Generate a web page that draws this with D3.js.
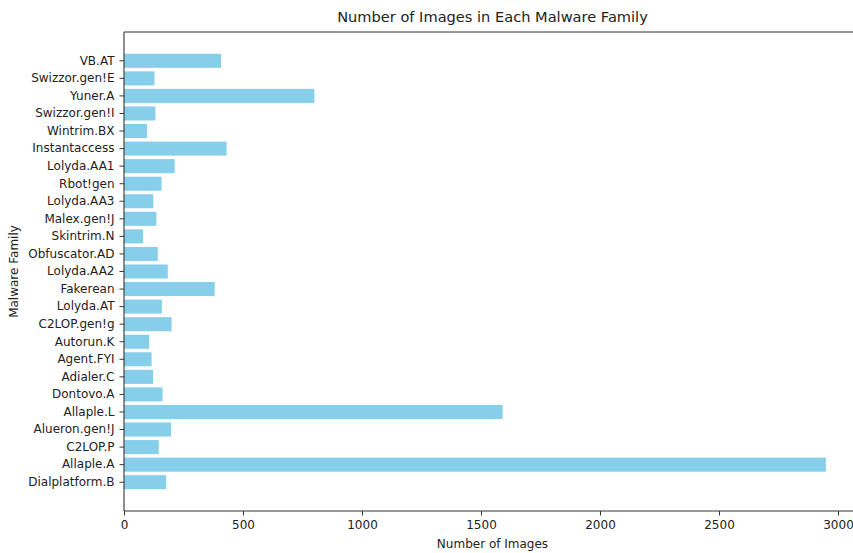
<!DOCTYPE html>
<html>
<head>
<meta charset="utf-8">
<script src="https://cdn.jsdelivr.net/npm/d3@7"></script>
<style>
  html, body { margin: 0; padding: 0; background: #fff; }
  svg { display: block; font-family: "DejaVu Sans", sans-serif; }
</style>
</head>
<body>
<svg id="chart" width="853" height="553"></svg>
<script>
// Categories listed top to bottom as in the chart
const families = [
  "VB.AT", "Swizzor.gen!E", "Yuner.A", "Swizzor.gen!I", "Wintrim.BX",
  "Instantaccess", "Lolyda.AA1", "Rbot!gen", "Lolyda.AA3", "Malex.gen!J",
  "Skintrim.N", "Obfuscator.AD", "Lolyda.AA2", "Fakerean", "Lolyda.AT",
  "C2LOP.gen!g", "Autorun.K", "Agent.FYI", "Adialer.C", "Dontovo.A",
  "Allaple.L", "Alueron.gen!J", "C2LOP.P", "Allaple.A", "Dialplatform.B"
];
const imageCounts = [
  408, 128, 800, 132, 97,
  431, 213, 158, 123, 136,
  80, 142, 184, 381, 159,
  200, 106, 116, 122, 162,
  1591, 198, 146, 2949, 177
];
const xTicks = [0, 500, 1000, 1500, 2000, 2500, 3000];
const titleText = "Number of Images in Each Malware Family";
const xLabelText = "Number of Images";
const yLabelText = "Malware Family";

(function () {
const svg = d3.select("#chart");
const mLeft = 124, mTop = 32, mBottom = 511;
const pxPerUnit = 0.238;
const xMax = d3.max(imageCounts) * 1.05;
const mRight = mLeft + xMax * pxPerUnit;

const x = d3.scaleLinear().domain([0, xMax]).range([mLeft, mRight]);
const y = d3.scaleBand().domain(families).range([mTop, mBottom])
  .paddingInner(0.2).paddingOuter(1.24);

const textColor = "#222";
const axisColor = "#333";

// Bars
svg.append("g").selectAll("rect")
  .data(families)
  .join("rect")
  .attr("x", x(0))
  .attr("y", d => y(d))
  .attr("width", (d, i) => x(imageCounts[i]) - x(0))
  .attr("height", y.bandwidth())
  .attr("fill", "#87CEEB");

// Spines (top and right; right is beyond the picture edge)
svg.append("line").attr("x1", mLeft).attr("x2", mRight).attr("y1", mTop).attr("y2", mTop)
  .attr("stroke", axisColor).attr("stroke-width", 1.1);
svg.append("line").attr("x1", mRight).attr("x2", mRight).attr("y1", mTop).attr("y2", mBottom)
  .attr("stroke", axisColor).attr("stroke-width", 1.1);

// Axes
const xAxis = d3.axisBottom(x).tickValues(xTicks).tickFormat(d3.format("d"))
  .tickSize(4.5).tickPadding(5).tickSizeOuter(0);
const gx = svg.append("g").attr("transform", `translate(0,${mBottom})`).call(xAxis);
const yAxis = d3.axisLeft(y).tickSize(4.5).tickPadding(5).tickSizeOuter(0);
const gy = svg.append("g").attr("transform", `translate(${mLeft},0)`).call(yAxis);

[gx, gy].forEach(g => {
  g.select(".domain").attr("stroke", axisColor).attr("stroke-width", 1.1);
  g.selectAll(".tick line").attr("stroke", axisColor).attr("stroke-width", 1);
  g.selectAll(".tick text").attr("fill", textColor)
    .style("font-family", "'DejaVu Sans', sans-serif").style("font-size", "12px");
});
gy.select(".domain").attr("d", `M0,${mTop}V${mBottom}`);
gx.select(".domain").attr("d", `M${mLeft},0H${mRight}`);

// Title and labels
svg.append("text")
  .attr("x", (mLeft + mRight) / 2).attr("y", 22)
  .attr("text-anchor", "middle")
  .attr("fill", textColor)
  .style("font-size", "14.6px")
  .text(titleText);

svg.append("text")
  .attr("x", (mLeft + mRight) / 2).attr("y", 548)
  .attr("text-anchor", "middle")
  .attr("fill", textColor)
  .style("font-size", "12px")
  .text(xLabelText);

svg.append("text")
  .attr("transform", `translate(18,${(mTop + mBottom) / 2}) rotate(-90)`)
  .attr("text-anchor", "middle")
  .attr("fill", textColor)
  .style("font-size", "12px")
  .text(yLabelText);
})();
</script>
</body>
</html>
